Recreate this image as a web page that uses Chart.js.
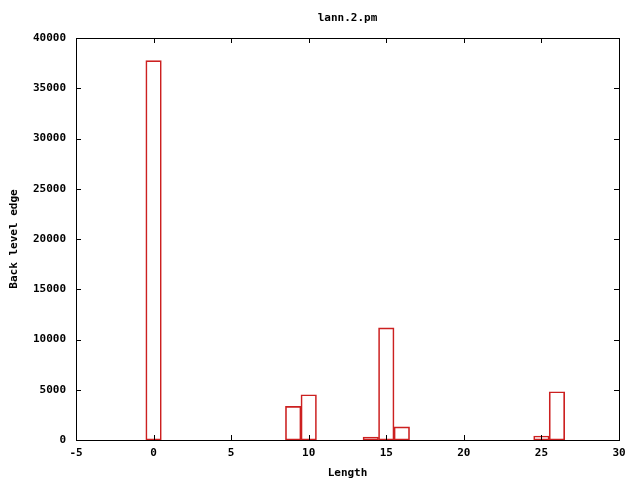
<!DOCTYPE html>
<html>
<head>
<meta charset="utf-8">
<script src="https://cdn.jsdelivr.net/npm/chart.js@4/dist/chart.umd.min.js"></script>
<style>
  html, body { margin: 0; padding: 0; background: #fff; }
  #wrap { width: 640px; height: 480px; }
</style>
</head>
<body>
<div id="wrap"><canvas id="myChart" width="640" height="480"></canvas></div>
<script>
// valeurs
const lengths = [0, 9, 10, 14, 15, 16, 25, 26];
const backLevelEdge = [37750, 3350, 4500, 300, 11150, 1300, 400, 4800];
const xTicks = [-5, 0, 5, 10, 15, 20, 25, 30];
const yTicks = [0, 5000, 10000, 15000, 20000, 25000, 30000, 35000, 40000];

const font = { family: '"DejaVu Sans Mono", monospace', size: 11, weight: 'bold' };

// cadre + graduations vers l'intérieur, façon gnuplot
const gnuplotFrame = {
  id: 'gnuplotFrame',
  afterDraw(chart) {
    const { ctx, chartArea: a, scales } = chart;
    ctx.save();
    ctx.strokeStyle = '#000';
    ctx.lineWidth = 1;
    ctx.strokeRect(Math.round(a.left) + 0.5, Math.round(a.top) + 0.5,
      Math.round(a.right - a.left), Math.round(a.bottom - a.top));
    const len = 5;
    ctx.beginPath();
    xTicks.forEach(v => {
      const x = Math.round(scales.x.getPixelForValue(v)) + 0.5;
      ctx.moveTo(x, a.bottom); ctx.lineTo(x, a.bottom - len);
      ctx.moveTo(x, a.top); ctx.lineTo(x, a.top + len);
    });
    yTicks.forEach(v => {
      const y = Math.round(scales.y.getPixelForValue(v)) + 0.5;
      ctx.moveTo(a.left, y); ctx.lineTo(a.left + len, y);
      ctx.moveTo(a.right, y); ctx.lineTo(a.right - len, y);
    });
    ctx.stroke();
    ctx.restore();
  }
};

const ctx = document.getElementById('myChart');
new Chart(ctx, {
  type: 'bar',
  data: {
    datasets: [{
      label: 'lann.2.pm',
      data: lengths.map((l, i) => ({ x: l, y: backLevelEdge[i] })),
      backgroundColor: 'rgba(0,0,0,0)',
      borderColor: '#cc2020',
      borderWidth: 1,
      borderSkipped: false,
      barPercentage: 1,
      categoryPercentage: 1
    }]
  },
  options: {
    responsive: false,
    animation: false,
    layout: { padding: { left: 0, right: 21, top: 0, bottom: 0 } },
    plugins: {
      legend: { display: false },
      tooltip: { enabled: false },
      title: { display: false }
    },
    scales: {
      x: {
        type: 'linear',
        min: -5,
        max: 30,
        offset: false,
        afterFit: s => { s.height = 40; },
        afterBuildTicks: s => { s.ticks = xTicks.map(v => ({ value: v })); },
        grid: { display: false, drawTicks: false, offset: false },
        border: { display: false },
        ticks: { color: '#000', font: font, padding: 7, maxRotation: 0, callback: v => String(v) },
        title: { display: true, text: 'Length', color: '#000', font: font, padding: { top: 0, bottom: 0 } }
      },
      // axe du haut : sert seulement à centrer le titre sur la zone du graphique
      xTop: {
        type: 'linear',
        position: 'top',
        min: -5,
        max: 30,
        offset: false,
        afterFit: s => { s.height = 38; },
        grid: { display: false, drawTicks: false },
        border: { display: false },
        ticks: { display: false },
        title: { display: true, text: 'lann.2.pm', color: '#000', font: font, padding: { top: 12, bottom: 0 } }
      },
      y: {
        min: 0,
        max: 40000,
        afterFit: s => { s.width = 76; },
        afterBuildTicks: s => { s.ticks = yTicks.map(v => ({ value: v })); },
        grid: { display: false, drawTicks: false },
        border: { display: false },
        ticks: { color: '#000', font: font, padding: 10, callback: v => String(v) },
        title: { display: true, text: 'Back level edge', color: '#000', font: font, padding: { top: 8, bottom: 0 } }
      }
    }
  },
  plugins: [gnuplotFrame]
});
</script>
</body>
</html>
